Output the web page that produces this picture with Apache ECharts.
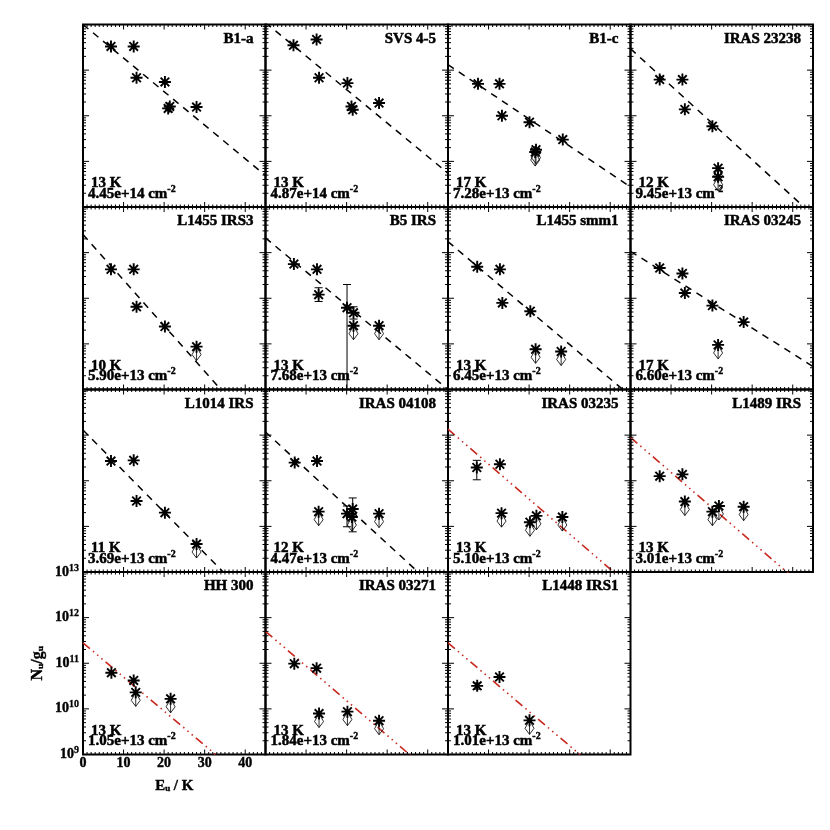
<!DOCTYPE html>
<html>
<head>
<meta charset="utf-8">
<script src="https://cdn.jsdelivr.net/npm/echarts@6/dist/echarts.min.js"></script>
<style>
  html, body { margin: 0; background: #fff; }
  #main { width: 830px; height: 830px; }
</style>
</head>
<body>
<div id="main"></div>
<script>
// panel names, fit temperature and column density
const names = ['B1-a', 'SVS 4-5', 'B1-c', 'IRAS 23238',
  'L1455 IRS3', 'B5 IRS', 'L1455 smm1', 'IRAS 03245',
  'L1014 IRS', 'IRAS 04108', 'IRAS 03235', 'L1489 IRS',
  'HH 300', 'IRAS 03271', 'L1448 IRS1'];
const temps = ['13 K', '13 K', '17 K', '12 K', '10 K', '13 K', '13 K', '17 K',
  '11 K', '12 K', '13 K', '13 K', '13 K', '13 K', '13 K'];
const columns = ['4.45e+14', '4.87e+14', '7.28e+13', '9.45e+13', '5.90e+13', '7.68e+13', '6.45e+13', '6.60e+13',
  '3.69e+13', '4.47e+13', '5.10e+13', '3.01e+13', '1.05e+13', '1.84e+13', '1.01e+13'];

// fitted line: N/g at E=0 K and at E=45 K
const fitStart = [1.0e13, 1.1e13, 1.32e12, 2.95e12, 2.5e12, 2.1e12, 1.74e12, 1.07e12,
  1.29e12, 1.17e12, 1.35e12, 8.9e11, 2.8e11, 5.0e11, 2.8e11];
const fitEnd = [4.9e9, 5.5e9, 2.75e9, 6.6e8, 7.9e7, 1.0e9, 7.2e8, 3.2e9,
  1.15e8, 2.5e8, 4.8e8, 3.2e8, 1.2e8, 1.9e8, 1.15e8];
const fitKind = ['dash', 'dash', 'dash', 'dash', 'dash', 'dash', 'dash', 'dash',
  'dash', 'dash', 'dot', 'dot', 'dot', 'dot', 'dot'];

// detections [E_u, N_u/g_u]
const detections = [
  [[6.9, 3.3e12], [12.5, 3.3e12], [13.2, 6.8e11], [20.2, 5.5e11], [21.0, 1.45e11], [21.4, 1.6e11], [28.0, 1.55e11]],
  [[6.9, 3.5e12], [12.6, 4.7e12], [13.2, 6.8e11], [20.2, 5.2e11], [21.2, 1.6e11], [21.5, 1.35e11], [28.0, 1.9e11]],
  [[7.4, 5.0e11], [12.7, 5.0e11], [13.3, 1.0e11], [20.1, 7.2e10], [28.3, 3.0e10]],
  [[7.2, 6.2e11], [12.8, 6.2e11], [13.4, 1.38e11], [20.2, 5.9e10]],
  [[6.9, 4.3e11], [12.5, 4.3e11], [13.2, 6.5e10], [20.2, 2.4e10]],
  [[7.0, 5.6e11], [12.7, 4.3e11], [13.1, 1.2e11], [20.1, 6.2e10], [21.7, 4.8e10]],
  [[7.2, 4.9e11], [12.8, 4.3e11], [13.4, 7.9e10], [20.3, 5.2e10]],
  [[7.2, 4.6e11], [12.8, 3.5e11], [13.4, 1.3e11], [20.2, 6.9e10], [27.9, 3.0e10]],
  [[6.9, 2.7e11], [12.5, 2.8e11], [13.2, 3.6e10], [20.2, 2.0e10]],
  [[7.2, 2.5e11], [12.7, 2.7e11], [20.1, 1.9e10], [21.5, 2.4e10]],
  [[7.1, 1.95e11], [12.8, 2.3e11]],
  [[7.2, 1.26e11], [12.8, 1.38e11]],
  [[7.0, 6.2e10], [12.5, 4.2e10]],
  [[7.1, 9.8e10], [12.6, 7.8e10]],
  [[7.2, 3.2e10], [12.7, 5.0e10]]
];

// upper limits [E_u, N_u/g_u]
const upperLimits = [
  [], [],
  [[21.7, 1.8e10], [21.5, 1.6e10]],
  [[21.6, 7.1e9], [21.6, 4.6e9]],
  [[28.0, 8.7e9]],
  [[21.7, 2.5e10], [28.0, 2.5e10]],
  [[21.6, 7.6e9], [27.9, 6.8e9]],
  [[21.6, 9.5e9]],
  [[28.0, 4.1e9]],
  [[13.1, 2.1e10], [21.3, 1.6e10], [28.0, 1.9e10]],
  [[13.2, 1.95e10], [20.2, 1.23e10], [21.8, 1.7e10], [28.2, 1.6e10]],
  [[13.4, 3.5e10], [20.2, 2.1e10], [21.8, 2.8e10], [27.9, 2.7e10]],
  [[13.0, 2.3e10], [21.6, 1.66e10]],
  [[13.2, 7.9e9], [20.2, 8.7e9], [28.0, 5.5e9]],
  [[20.1, 5.6e9]]
];

// error bars [E_u, low, high]
const errorBars = [
  [], [], [], [], [],
  [[13.1, 8.5e10, 1.7e11], [20.1, 9.3e8, 2.0e11], [21.7, 3.5e10, 6.5e10]],
  [], [], [],
  [[20.1, 9.8e9, 2.8e10], [21.5, 7.6e9, 4.2e10]],
  [[7.1, 1.05e11, 2.8e11]],
  [], [], [],
  [[7.2, 2.7e10, 3.7e10]]
];

const xTicks = [0, 10, 20, 30, 40];

const chart = echarts.init(document.getElementById('main'));
const FONT = '"Liberation Serif", "DejaVu Serif", serif';
const STAR = 'path://M-1,0L1,0M0,-1L0,1M-0.72,-0.72L0.72,0.72M-0.72,0.72L0.72,-0.72';
const ARROW = 'path://M0,0L-4.5,8L0,14L4.5,8ZM0,0L0,14';
const RED = '#c8281e';

const left0 = 83, top0 = 24.5, cell = 182.5;
const labelPanel = 12;

function seg(x1, y1, x2, y2) {
  return { type: 'line', shape: { x1: x1, y1: y1, x2: x2, y2: y2 }, style: { stroke: '#000', lineWidth: 1 } };
}

// rich styles for panel text (graphic / zrender names)
const panelRich = {
  n: { fontFamily: FONT, fontWeight: 'bold', fontSize: 15, lineHeight: 20, fill: '#000', stroke: '#000', lineWidth: 0.5 },
  s: { fontFamily: FONT, fontWeight: 'bold', fontSize: 10, lineHeight: 10, verticalAlign: 'top', fill: '#000', stroke: '#000', lineWidth: 0.4 }
};
// rich styles for axis labels (echarts names)
const axisRich = {
  x: { fontFamily: FONT, fontWeight: 'bold', fontSize: 14, lineHeight: 14, color: '#000', textBorderColor: '#000', textBorderWidth: 0.4 },
  b: { fontFamily: FONT, fontWeight: 'bold', fontSize: 14, lineHeight: 18, color: '#000', textBorderColor: '#000', textBorderWidth: 0.4 },
  e: { fontFamily: FONT, fontWeight: 'bold', fontSize: 10, lineHeight: 10, verticalAlign: 'top', color: '#000', textBorderColor: '#000', textBorderWidth: 0.3 }
};

const grid = [], xAxis = [], yAxis = [], series = [], graphic = [];

names.forEach((name, i) => {
  const gx = left0 + (i % 4) * cell;
  const gy = top0 + Math.floor(i / 4) * cell;
  const lab = i === labelPanel;

  grid.push({ left: gx, top: gy, width: cell, height: cell, show: true,
    borderColor: '#000', borderWidth: 2, backgroundColor: 'transparent' });

  xAxis.push({
    gridIndex: i, type: 'value', min: 0, max: 45, interval: 10,
    axisLine: { show: false }, axisTick: { show: false }, splitLine: { show: false },
    axisLabel: { show: lab, margin: 2, rich: axisRich,
      formatter: v => (xTicks.indexOf(v) >= 0 ? '{x|' + v + '}' : '') },
    name: lab ? 'Eᵤ / K' : '', nameLocation: 'middle', nameGap: 24,
    nameTextStyle: { color: '#000', fontFamily: FONT, fontWeight: 'bold', fontSize: 15, textBorderColor: '#000', textBorderWidth: 0.4 }
  });
  yAxis.push({
    gridIndex: i, type: 'log', logBase: 10, min: 1e9, max: 1e13,
    axisLine: { show: false }, axisTick: { show: false }, splitLine: { show: false },
    axisLabel: { show: lab, margin: 4, rich: axisRich,
      showMinLabel: true, showMaxLabel: true,
      formatter: v => '{b|10}{e|' + Math.round(Math.log10(v)) + '}' },
    name: lab ? 'Nᵤ/gᵤ' : '', nameLocation: 'middle', nameGap: 37,
    nameTextStyle: { color: '#000', fontFamily: FONT, fontWeight: 'bold', fontSize: 16, textBorderColor: '#000', textBorderWidth: 0.4 }
  });

  // tick marks on all four sides, placed through the axis scales
  series.push({
    type: 'custom', xAxisIndex: i, yAxisIndex: i, silent: true, clip: false, z: 5,
    data: [[0, 1e9]],
    renderItem: (params, api) => {
      const kids = [];
      const xl = api.coord([0, 1e9])[0], xr = api.coord([45, 1e9])[0];
      const yb = api.coord([0, 1e9])[1], yt = api.coord([0, 1e13])[1];
      for (let e = 1; e < 45; e++) {
        const len = e % 10 === 0 ? 5 : 2.5;
        const px = api.coord([e, 1e9])[0];
        kids.push(seg(px, yb, px, yb - len), seg(px, yt, px, yt + len));
      }
      for (let d = 9; d < 13; d++) {
        for (let m = 1; m <= 9; m++) {
          if (m === 1 && d === 9) continue;
          const py = api.coord([0, m * Math.pow(10, d)])[1];
          const len = m === 1 ? 6 : 3;
          kids.push(seg(xl, py, xl + len, py), seg(xr, py, xr - len, py));
        }
      }
      return { type: 'group', children: kids };
    }
  });

  const red = fitKind[i] === 'dot';
  series.push({
    type: 'line', xAxisIndex: i, yAxisIndex: i, showSymbol: false, silent: true, clip: true, z: 2,
    data: [[0, fitStart[i]], [45, fitEnd[i]]],
    lineStyle: red
      ? { color: RED, width: 1.6, type: [9, 4, 1.5, 4, 1.5, 4, 1.5, 4] }
      : { color: '#000', width: 1.5, type: [7, 6] }
  });

  series.push({
    type: 'custom', xAxisIndex: i, yAxisIndex: i, silent: true, clip: true, z: 3,
    data: errorBars[i],
    renderItem: (params, api) => {
      const x = api.value(0);
      const a = api.coord([x, api.value(2)]), b = api.coord([x, api.value(1)]);
      return { type: 'group', children: [
        seg(a[0], a[1], b[0], b[1]), seg(a[0] - 4, a[1], a[0] + 4, a[1]), seg(b[0] - 4, b[1], b[0] + 4, b[1])
      ] };
    }
  });

  series.push({
    type: 'scatter', xAxisIndex: i, yAxisIndex: i, silent: true, z: 4,
    data: detections[i].concat(upperLimits[i]),
    symbol: STAR, symbolSize: 12,
    itemStyle: { color: 'none', borderColor: '#000', borderWidth: 1.9, opacity: 1 }
  });
  series.push({
    type: 'scatter', xAxisIndex: i, yAxisIndex: i, silent: true, z: 4,
    data: upperLimits[i],
    symbol: ARROW, symbolSize: [9, 14], symbolOffset: [0, 7],
    itemStyle: { color: 'none', borderColor: '#000', borderWidth: 0.8, opacity: 1 }
  });

  const base = { align: 'left', textAlign: 'left', verticalAlign: 'middle', textVerticalAlign: 'middle', rich: panelRich };
  graphic.push({ type: 'text', x: gx + 170.5, y: gy + 14.5, z: 10,
    style: Object.assign({}, base, { text: '{n|' + name + '}', align: 'right', textAlign: 'right' }) });
  graphic.push({ type: 'text', x: gx + 8, y: gy + 159, z: 10,
    style: Object.assign({}, base, { text: '{n|' + temps[i] + '}' }) });
  graphic.push({ type: 'text', x: gx + 5, y: gy + 169.5, z: 10,
    style: Object.assign({}, base, { text: '{n|' + columns[i] + ' cm}{s|-2}' }) });
});

chart.setOption({
  animation: false,
  backgroundColor: '#fff',
  grid: grid,
  xAxis: xAxis,
  yAxis: yAxis,
  series: series,
  graphic: graphic
});
</script>
</body>
</html>
